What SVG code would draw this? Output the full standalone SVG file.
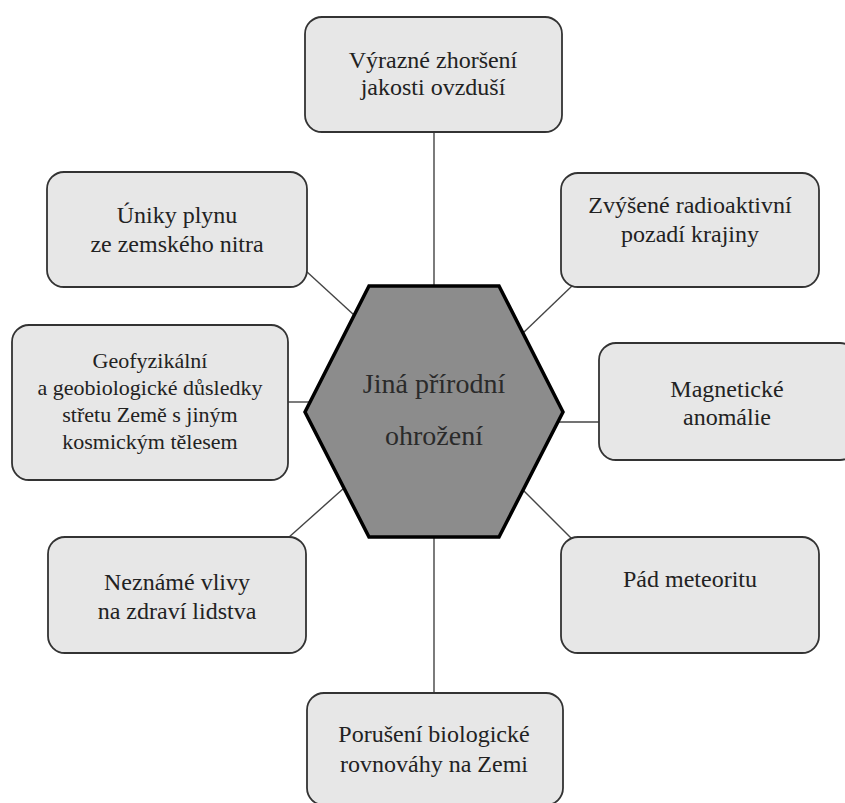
<svg xmlns="http://www.w3.org/2000/svg" width="845" height="803" viewBox="0 0 845 803">
<style>
.box{fill:#e7e7e7;stroke:#333;stroke-width:1.8}
.lbl{font-family:'Liberation Serif',serif;font-size:24px;fill:#222;text-anchor:middle}
.sm{font-size:22px}
.ht{font-family:'Liberation Serif',serif;font-size:28px;fill:#2a2a2a;text-anchor:middle}
.c{stroke:#444;stroke-width:1.4;fill:none}
</style>
<rect width="845" height="803" fill="#ffffff"/>
<g id="connectors">
<line class="c" x1="434" y1="132" x2="434" y2="286"/>
<line class="c" x1="573" y1="285" x2="523" y2="333"/>
<line class="c" x1="306" y1="271" x2="354" y2="315"/>
<line class="c" x1="288" y1="402" x2="310" y2="402"/>
<line class="c" x1="558" y1="422" x2="599" y2="422"/>
<line class="c" x1="288" y1="538" x2="344" y2="488"/>
<line class="c" x1="523" y1="490" x2="572" y2="539"/>
<line class="c" x1="434" y1="537" x2="434" y2="693"/>
</g>
<g id="center">
<polygon points="369,286 499,286 563,412 499,537 369,537 305,412" fill="#8c8c8c" stroke="#000" stroke-width="3.5" stroke-linejoin="miter"/>
<text class="ht" x="434" y="393">Jiná přírodní</text>
<text class="ht" x="434" y="445">ohrožení</text>
</g>
<g id="n-top">
<rect class="box" x="305" y="17" width="257" height="115" rx="17"/>
<text class="lbl" x="433" y="68">Výrazné zhoršení</text>
<text class="lbl" x="433" y="95">jakosti ovzduší</text>
</g>
<g id="n-unik">
<rect class="box" x="47" y="172" width="260" height="115" rx="17"/>
<text class="lbl" x="177" y="223">Úniky plynu</text>
<text class="lbl" x="177" y="252">ze zemského nitra</text>
</g>
<g id="n-radio">
<rect class="box" x="561" y="173" width="258" height="114" rx="17"/>
<text class="lbl" x="690" y="213">Zvýšené radioaktivní</text>
<text class="lbl" x="690" y="242">pozadí krajiny</text>
</g>
<g id="n-geo">
<rect class="box" x="12" y="325" width="276" height="155" rx="17"/>
<text class="lbl sm" x="150" y="368">Geofyzikální</text>
<text class="lbl sm" x="150" y="395">a geobiologické důsledky</text>
<text class="lbl sm" x="150" y="422">střetu Země s jiným</text>
<text class="lbl sm" x="150" y="449">kosmickým tělesem</text>
</g>
<g id="n-mag">
<rect class="box" x="599" y="343" width="258" height="117" rx="17"/>
<text class="lbl" x="727" y="397">Magnetické</text>
<text class="lbl" x="727" y="425">anomálie</text>
</g>
<g id="n-nezn">
<rect class="box" x="48" y="537" width="258" height="116" rx="17"/>
<text class="lbl" x="177" y="590">Neznámé vlivy</text>
<text class="lbl" x="177" y="619">na zdraví lidstva</text>
</g>
<g id="n-pad">
<rect class="box" x="561" y="537" width="258" height="116" rx="17"/>
<text class="lbl" x="690" y="587">Pád meteoritu</text>
</g>
<g id="n-porus">
<rect class="box" x="307" y="693" width="256" height="112" rx="17"/>
<text class="lbl" x="434" y="742">Porušení biologické</text>
<text class="lbl" x="434" y="772">rovnováhy na Zemi</text>
</g>
</svg>
